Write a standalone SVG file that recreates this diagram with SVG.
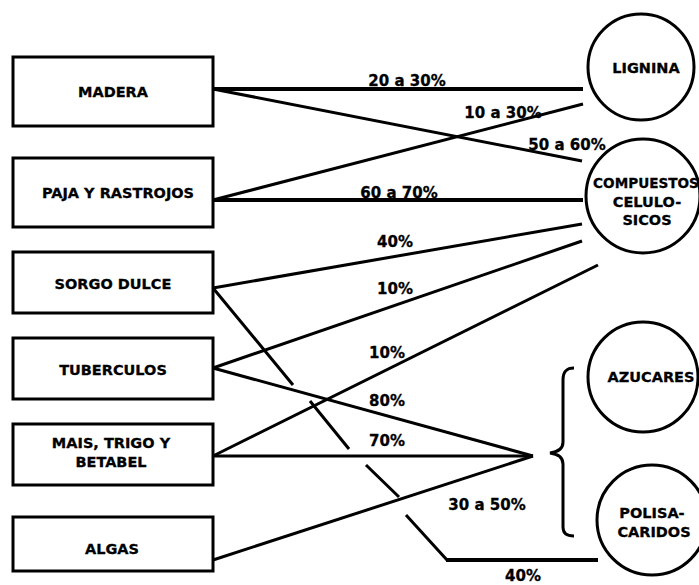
<svg xmlns="http://www.w3.org/2000/svg" width="699" height="585" viewBox="0 0 699 585">
<style>
text{font-family:"DejaVu Sans",Verdana,sans-serif;font-weight:bold;font-size:14.5px;fill:#000;text-anchor:middle;stroke:#000;stroke-width:0.3}
text.lbl{font-size:15px}
text.c{font-size:13.6px}
.box{fill:#fff;stroke:#000;stroke-width:3}
.circ{fill:#fff;stroke:#000;stroke-width:3}
.ln{fill:none;stroke:#000;stroke-width:3}
.thk{fill:none;stroke:#000;stroke-width:4}
</style>
<rect width="699" height="585" fill="#fff"/>
<g id="connectors">
<line class="thk" x1="213" y1="89" x2="583" y2="89"/>
<line class="ln" x1="213" y1="89" x2="582" y2="161"/>
<line class="ln" x1="213" y1="200" x2="583" y2="104"/>
<line class="thk" x1="213" y1="200" x2="583" y2="200"/>
<line class="ln" x1="213" y1="288" x2="582" y2="224"/>
<line class="ln" x1="213" y1="368" x2="582" y2="241"/>
<line class="ln" x1="213" y1="456" x2="598" y2="265"/>
<line class="ln" x1="213" y1="368" x2="533" y2="456"/>
<line class="ln" x1="213" y1="456" x2="533" y2="456"/>
<line class="ln" x1="213" y1="560" x2="533" y2="456"/>
<path class="ln" d="M213,288 L293,385 M310,401 L349,449 M366,465 L399,497 M406,515 L447,560"/>
<line class="thk" x1="446" y1="560" x2="598" y2="560"/>
<path class="ln" d="M574,368 C566,368 563,372 563,380 L563,442 C563,449 558,452 550,453 C558,454 563,457 563,464 L563,527 C563,533 566,536 574,536"/>
<text class="lbl" x="407" y="86">20 a 30%</text>
<text class="lbl" x="503" y="118">10 a 30%</text>
<text class="lbl" x="567" y="150">50 a 60%</text>
<text class="lbl" x="399" y="198">60 a 70%</text>
<text class="lbl" x="395" y="247">40%</text>
<text class="lbl" x="395" y="294">10%</text>
<text class="lbl" x="387" y="358">10%</text>
<text class="lbl" x="387" y="406">80%</text>
<text class="lbl" x="387" y="446">70%</text>
<text class="lbl" x="487" y="510">30 a 50%</text>
<text class="lbl" x="523" y="581">40%</text>
</g>
<g id="madera"><rect class="box" x="13" y="57" width="200" height="69"/><text x="113" y="97">MADERA</text></g>
<g id="paja"><rect class="box" x="13" y="158" width="200" height="69"/><text x="118" y="198">PAJA Y RASTROJOS</text></g>
<g id="sorgo"><rect class="box" x="13" y="252" width="200" height="61"/><text x="113" y="289">SORGO DULCE</text></g>
<g id="tuberculos"><rect class="box" x="13" y="338" width="200" height="61"/><text x="113" y="375">TUBERCULOS</text></g>
<g id="mais"><rect class="box" x="13" y="424" width="200" height="61"/><text x="111" y="448">MAIS, TRIGO Y</text><text x="111" y="467">BETABEL</text></g>
<g id="algas"><rect class="box" x="13" y="517" width="200" height="54"/><text x="112" y="554">ALGAS</text></g>
<g id="lignina"><circle class="circ" cx="641" cy="67" r="53"/><text x="646" y="73">LIGNINA</text></g>
<g id="compuestos"><circle class="circ" cx="643" cy="196" r="57"/><text class="c" x="646" y="188">COMPUESTOS</text><text x="647" y="207">CELULO-</text><text x="647" y="225">SICOS</text></g>
<g id="azucares"><circle class="circ" cx="643" cy="377" r="55"/><text x="651" y="382">AZUCARES</text></g>
<g id="polisacaridos"><circle class="circ" cx="652" cy="520" r="55"/><text x="652" y="518">POLISA-</text><text x="654" y="537">CARIDOS</text></g>
</svg>
